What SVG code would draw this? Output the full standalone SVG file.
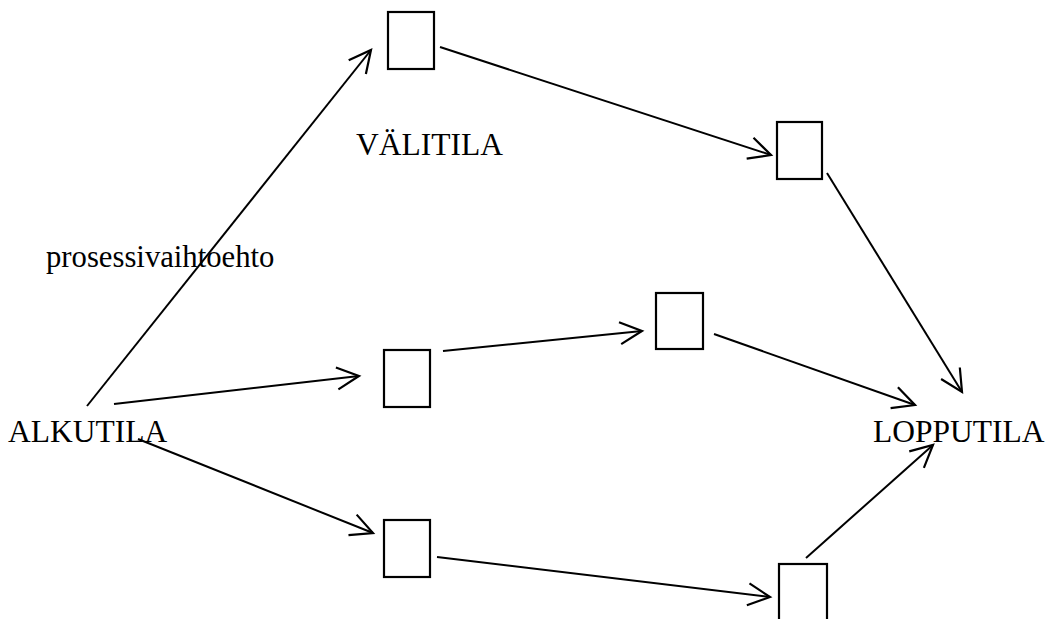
<svg xmlns="http://www.w3.org/2000/svg" width="1049" height="619" viewBox="0 0 1049 619">
<style>
.box{fill:none;stroke:#000;stroke-width:2.2}
.edge{fill:none;stroke:#000;stroke-width:2;marker-end:url(#arr)}
.lbl{font-family:"Liberation Serif","Times New Roman",serif;font-size:31.5px;fill:#000}
.small{font-size:30.7px}
</style>
<defs>
<marker id="arr" markerUnits="userSpaceOnUse" markerWidth="30" markerHeight="30" viewBox="-26 -15 30 30" refX="0" refY="0" orient="auto">
<path d="M-22,-11 L0,0 L-22,11" fill="none" stroke="#000" stroke-width="2.2"/>
</marker>
</defs>
<rect width="1049" height="619" fill="#fff"/>
<g id="connectors">
<line class="edge" x1="87" y1="406" x2="371" y2="50"/>
<line class="edge" x1="440" y1="47" x2="771" y2="155"/>
<line class="edge" x1="827" y1="173" x2="962" y2="392"/>
<line class="edge" x1="114" y1="404" x2="359" y2="376"/>
<line class="edge" x1="443" y1="351" x2="642" y2="331"/>
<line class="edge" x1="714" y1="334" x2="915" y2="405"/>
<line class="edge" x1="138" y1="439" x2="373" y2="533"/>
<line class="edge" x1="437" y1="557" x2="770" y2="597"/>
<line class="edge" x1="806" y1="558" x2="933" y2="445"/>
</g>
<g id="alkutila"><text class="lbl" x="8" y="442">ALKUTILA</text></g>
<g id="lopputila"><text class="lbl" x="873" y="442">LOPPUTILA</text></g>
<g id="valitila"><text class="lbl" x="356" y="155">VÄLITILA</text></g>
<g id="prosessivaihtoehto"><text class="lbl small" x="46" y="267">prosessivaihtoehto</text></g>
<g id="box1"><rect class="box" x="388" y="12" width="46" height="57"/></g>
<g id="box2"><rect class="box" x="777" y="122" width="45" height="57"/></g>
<g id="box3"><rect class="box" x="384" y="350" width="46" height="57"/></g>
<g id="box4"><rect class="box" x="656" y="293" width="47" height="56"/></g>
<g id="box5"><rect class="box" x="384" y="520" width="46" height="57"/></g>
<g id="box6"><rect class="box" x="779" y="564" width="48" height="70"/></g>
</svg>
